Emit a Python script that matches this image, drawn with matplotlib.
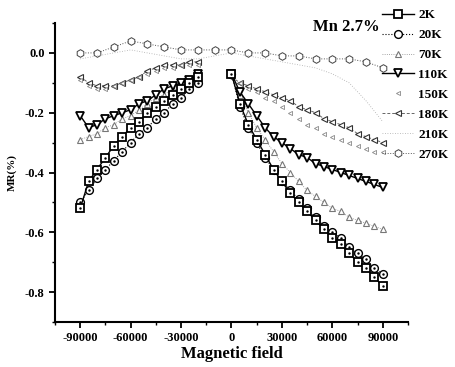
import numpy as np
import matplotlib
matplotlib.use("Agg")
import matplotlib.pyplot as plt
from matplotlib.ticker import MultipleLocator

plt.rcParams['font.family'] = ['Liberation Serif', 'DejaVu Serif']
plt.rcParams['font.weight'] = 'bold'
plt.rcParams['axes.unicode_minus'] = False

# field values (Oe) for the two sweep branches
field_left = [-90000, -85000, -80000, -75000, -70000, -65000, -60000, -55000,
              -50000, -45000, -40000, -35000, -30000, -25000, -20000]
field_right = [0, 5000, 10000, 15000, 20000, 25000, 30000, 35000, 40000, 45000,
               50000, 55000, 60000, 65000, 70000, 75000, 80000, 85000, 90000]
field_full = [-90000, -80000, -70000, -60000, -50000, -40000, -30000, -20000, -10000,
              0, 10000, 20000, 30000, 40000, 50000, 60000, 70000, 80000, 90000]

# MR (%)
mr_2k_left = [-0.52, -0.43, -0.39, -0.35, -0.31, -0.28, -0.25, -0.23, -0.20, -0.18,
              -0.16, -0.14, -0.12, -0.10, -0.08]
mr_2k_right = [-0.07, -0.17, -0.24, -0.29, -0.34, -0.39, -0.43, -0.47, -0.50, -0.53,
               -0.56, -0.59, -0.62, -0.64, -0.67, -0.70, -0.72, -0.75, -0.78]
mr_20k_left = [-0.50, -0.46, -0.42, -0.39, -0.36, -0.33, -0.30, -0.27, -0.25, -0.22,
               -0.20, -0.17, -0.15, -0.12, -0.10]
mr_20k_right = [-0.07, -0.18, -0.25, -0.30, -0.35, -0.39, -0.43, -0.46, -0.49, -0.52,
                -0.55, -0.58, -0.60, -0.62, -0.65, -0.67, -0.69, -0.72, -0.74]
mr_70k_left = [-0.29, -0.28, -0.27, -0.25, -0.24, -0.22, -0.21, -0.19, -0.17, -0.15,
               -0.14, -0.12, -0.11, -0.09, -0.08]
mr_70k_right = [-0.07, -0.14, -0.20, -0.25, -0.29, -0.33, -0.37, -0.40, -0.43, -0.46,
                -0.48, -0.50, -0.52, -0.53, -0.55, -0.56, -0.57, -0.58, -0.59]
mr_110k_left = [-0.21, -0.25, -0.24, -0.22, -0.21, -0.20, -0.19, -0.17, -0.16, -0.14,
                -0.12, -0.11, -0.10, -0.09, -0.07]
mr_110k_right = [-0.07, -0.13, -0.17, -0.21, -0.25, -0.28, -0.30, -0.32, -0.34, -0.35,
                 -0.37, -0.38, -0.39, -0.40, -0.41, -0.42, -0.43, -0.44, -0.45]
mr_150k_left = [-0.09, -0.11, -0.12, -0.12, -0.11, -0.10, -0.09, -0.08, -0.07, -0.06,
                -0.05, -0.05, -0.04, -0.04, -0.04]
mr_150k_right = [-0.08, -0.10, -0.12, -0.13, -0.15, -0.16, -0.18, -0.20, -0.22, -0.24,
                 -0.25, -0.27, -0.28, -0.29, -0.30, -0.31, -0.32, -0.33, -0.33]
mr_180k_left = [-0.08, -0.10, -0.11, -0.11, -0.11, -0.10, -0.09, -0.08, -0.06, -0.05,
                -0.04, -0.04, -0.04, -0.03, -0.03]
mr_180k_right = [-0.08, -0.10, -0.11, -0.12, -0.13, -0.14, -0.15, -0.16, -0.18, -0.19,
                 -0.20, -0.22, -0.23, -0.24, -0.25, -0.27, -0.28, -0.29, -0.30]
mr_210k = [-0.02, -0.01, 0.00, 0.01, 0.00, -0.01, -0.02, -0.02, -0.01,
           0.00, -0.01, -0.02, -0.03, -0.04, -0.05, -0.07, -0.10, -0.16, -0.23]
mr_270k = [0.00, 0.00, 0.02, 0.04, 0.03, 0.02, 0.01, 0.01, 0.01,
           0.01, 0.00, 0.00, -0.01, -0.01, -0.02, -0.02, -0.02, -0.03, -0.05]

fig = plt.figure(figsize=(4.56, 3.67), dpi=100)
ax = fig.add_axes([0.1206, 0.1226, 0.7741, 0.8147])

def branch(x, y, lab, dot=False, **kw):
    ax.plot(x, y, label=lab, **kw)
    if dot:
        # little centre dot, as in the scanned markers
        ax.plot(x, y, ls='none', marker='.', ms=1.5, color='black')

st_2k = dict(color='black', lw=1.0, marker='s', ms=5.2, mfc='white', mec='black', mew=1.3)
st_20k = dict(color='black', lw=0.8, ls=':', marker='o', ms=5.6, mfc='white', mec='black', mew=1.0)
st_70k = dict(color='#888888', lw=0.6, ls=':', marker='^', ms=4, mfc='white', mec='#777777', mew=0.8)
st_110k = dict(color='black', lw=1.0, marker='v', ms=5.6, mfc='white', mec='black', mew=1.3)
st_150k = dict(color='#999999', lw=0, marker='<', ms=3, mfc='white', mec='#888888', mew=0.6)
st_180k = dict(color='#666666', lw=0.7, ls=(0, (3, 2)), marker='<', ms=5, mfc='white', mec='#333333', mew=0.8)
st_210k = dict(color='#aaaaaa', lw=0.6, ls=(0, (1, 2)), marker='None')
st_270k = dict(color='#555555', lw=0.7, ls=':', marker='h', ms=5.5, mfc='white', mec='#444444', mew=0.7)

ax.plot(field_full, mr_270k, label='270K', **st_270k)
ax.plot(field_full, mr_210k, label='210K', **st_210k)
branch(field_left, mr_180k_left, None, **st_180k)
branch(field_right, mr_180k_right, '180K', **st_180k)
branch(field_left, mr_150k_left, None, **st_150k)
branch(field_right, mr_150k_right, '150K', **st_150k)
branch(field_left, mr_70k_left, None, **st_70k)
branch(field_right, mr_70k_right, '70K', **st_70k)
branch(field_left, mr_110k_left, None, **st_110k)
branch(field_right, mr_110k_right, '110K', **st_110k)
branch(field_left, mr_20k_left, None, dot=True, **st_20k)
branch(field_right, mr_20k_right, '20K', dot=True, **st_20k)
branch(field_left, mr_2k_left, None, dot=True, **st_2k)
branch(field_right, mr_2k_right, '2K', dot=True, **st_2k)

ax.set_xlim(-105000, 105000)
ax.set_ylim(-0.9, 0.1)
ax.xaxis.set_major_locator(MultipleLocator(30000))
ax.xaxis.set_minor_locator(MultipleLocator(15000))
ax.yaxis.set_major_locator(MultipleLocator(0.2))
ax.yaxis.set_minor_locator(MultipleLocator(0.1))
ax.set_xticks([-90000, -60000, -30000, 0, 30000, 60000, 90000])
ax.yaxis.set_major_formatter(plt.FuncFormatter(lambda v, p: '%.1f' % v))
for s in ['top', 'right']:
    ax.spines[s].set_visible(False)
for s in ['left', 'bottom']:
    ax.spines[s].set_linewidth(1.5)
ax.tick_params(which='major', direction='out', length=4, width=1.3, labelsize=9)
ax.tick_params(which='minor', direction='out', length=2.5, width=1.0)

ax.set_xlabel('Magnetic field', fontsize=12, fontweight='bold', labelpad=1)
ax.set_ylabel('MR(%)', fontsize=8, fontweight='bold', labelpad=6)

handles, labels = ax.get_legend_handles_labels()
order = ['2K', '20K', '70K', '110K', '150K', '180K', '210K', '270K']
hmap = dict(zip(labels, handles))
leg = fig.legend([hmap[k] for k in order], order, loc='upper left',
                 bbox_to_anchor=(0.838, 0.975), frameon=False, fontsize=9.5,
                 handlelength=2.4, handletextpad=0.35, labelspacing=0.58,
                 borderaxespad=0, borderpad=0)
for t in leg.get_texts():
    t.set_fontweight('bold')

fig.text(0.686, 0.915, 'Mn 2.7%', fontsize=12, fontweight='bold')

fig.savefig('out.png', dpi=100)
